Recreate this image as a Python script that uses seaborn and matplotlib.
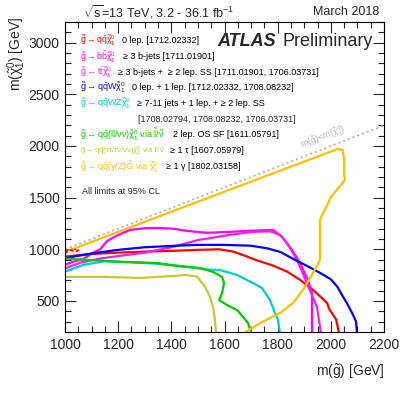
import numpy as np
import pandas as pd
import matplotlib
matplotlib.use("Agg")
import matplotlib.pyplot as plt
from matplotlib.ticker import MultipleLocator
import seaborn as sns

# ----------------------------
# contour points: m(gluino), m(neutralino) in GeV
# ----------------------------
qq_g = [1000, 1100, 1200, 1300, 1400, 1500, 1580, 1630, 1680, 1720, 1780, 1835, 1884, 1933, 1970, 1986, 1995, 2005, 2020, 2030]
qq_m = [930, 955, 968, 978, 985, 995, 1000, 980, 935, 895, 845, 785, 705, 607, 520, 480, 415, 380, 320, 200]

bb_g = [1000, 1030, 1068, 1100, 1132, 1158, 1200, 1245, 1300, 1346, 1406, 1460, 1535, 1620, 1700, 1783, 1816, 1854, 1884, 1914, 1929, 1929]
bb_m = [850, 880, 905, 960, 1000, 1080, 1140, 1188, 1205, 1207, 1200, 1178, 1160, 1169, 1180, 1188, 1120, 994, 868, 703, 577, 200]

tt_g = [1000, 1056, 1130, 1200, 1293, 1400, 1500, 1620, 1707, 1770, 1809, 1835, 1873, 1910, 1948, 1962]
tt_m = [815, 870, 910, 935, 965, 1020, 1090, 1140, 1169, 1175, 1140, 1062, 897, 674, 442, 200]

w_g = [1000, 1100, 1200, 1300, 1400, 1500, 1600, 1700, 1760, 1810, 1860, 1910, 1960, 2000, 2025, 2045, 2060, 2080, 2095, 2098]
w_m = [915, 960, 995, 1020, 1033, 1043, 1043, 1035, 1010, 975, 905, 840, 771, 710, 636, 545, 481, 384, 300, 200]

wz_g = [1000, 1070, 1150, 1250, 1350, 1450, 1530, 1583, 1647, 1707, 1741, 1771, 1790, 1801, 1808]
wz_m = [785, 850, 885, 875, 860, 835, 805, 800, 752, 674, 626, 510, 384, 316, 200]

sl_g = [1000, 1090, 1215, 1345, 1433, 1508, 1557, 1591, 1598, 1591, 1580, 1609, 1647, 1670, 1688, 1700]
sl_m = [910, 897, 878, 868, 835, 820, 781, 733, 674, 577, 510, 461, 413, 345, 287, 200]

tau_g = [1000, 1158, 1282, 1406, 1459, 1497, 1527, 1546, 1557, 1564, 1568]
tau_m = [733, 733, 723, 742, 752, 735, 636, 539, 442, 316, 200]

gam_g = [1000, 2027, 2045, 2050, 2050, 2053, 2001, 1959, 1959, 1933, 1895, 1858, 1809, 1734, 1680]
gam_m = [975, 1973, 1960, 1866, 1721, 1672, 1508, 1285, 897, 771, 607, 481, 384, 287, 200]

# short dashed piece of the 0-lepton contour near the diagonal
qqd_g = [1004, 1010, 1025, 1040, 1055]
qqd_m = [965, 1000, 990, 975, 1000]

diag_g = [1000, 2200]

analyses = ["qq", "bb", "tt", "w", "wz", "sl", "tau", "gam"]
colors = {"qq": "#ff0000", "bb": "#ff00ff", "tt": "#ee22ee", "w": "#0000ff",
          "wz": "#00cccc", "sl": "#00cc00", "tau": "#c8c832", "gam": "#ffc000"}
curves = {"qq": (qq_g, qq_m), "bb": (bb_g, bb_m), "tt": (tt_g, tt_m), "w": (w_g, w_m),
          "wz": (wz_g, wz_m), "sl": (sl_g, sl_m), "tau": (tau_g, tau_m), "gam": (gam_g, gam_m)}

frames = []
for name in analyses:
    g, m = curves[name]
    frames.append(pd.DataFrame({"g": g, "m": m, "analysis": name}))
df = pd.concat(frames, ignore_index=True)

legend_sym = [
    r"$\tilde{g}\rightarrow q\bar{q}\tilde{\chi}^{0}_{1}$",
    r"$\tilde{g}\rightarrow b\bar{b}\tilde{\chi}^{0}_{1}$",
    r"$\tilde{g}\rightarrow t\bar{t}\tilde{\chi}^{0}_{1}$",
    r"$\tilde{g}\rightarrow q\bar{q}W\tilde{\chi}^{0}_{1}$",
    r"$\tilde{g}\rightarrow q\bar{q}WZ\tilde{\chi}^{0}_{1}$",
    r"$\tilde{g}\rightarrow q\bar{q}(ll/\nu\nu)\tilde{\chi}^{0}_{1}$ via $\tilde{l}/\tilde{\nu}$",
    r"$\tilde{g}\rightarrow q\bar{q}(\tau\tau/\tau\nu/\nu\nu)\tilde{\chi}^{0}_{1}$ via $\tilde{\tau}/\tilde{\nu}$",
    r"$\tilde{g}\rightarrow q\bar{q}(\gamma/Z)\tilde{G}$ via $\tilde{\chi}^{0}_{1}$",
]
legend_desc = [
    "0 lep. [1712.02332]",
    "≥ 3 b-jets [1711.01901]",
    "≥ 3 b-jets +  ≥ 2 lep. SS [1711.01901, 1706.03731]",
    "0 lep. + 1 lep. [1712.02332, 1708.08232]",
    "≥ 7-11 jets + 1 lep. + ≥ 2 lep. SS",
    "2 lep. OS SF [1611.05791]",
    "≥ 1 τ [1607.05979]",
    "≥ 1 γ [1802.03158]",
]
legend_keys = ["qq", "bb", "tt", "w", "wz", "sl", "tau", "gam"]

# ----------------------------
# style
# ----------------------------
sns.set_style("ticks")
plt.rcParams['font.family'] = ['Liberation Sans', 'DejaVu Sans']
plt.rcParams['mathtext.fontset'] = 'custom'
plt.rcParams['mathtext.rm'] = 'Liberation Sans'
plt.rcParams['mathtext.it'] = 'Liberation Sans'
plt.rcParams['mathtext.bf'] = 'Liberation Sans:bold'

W, H = 406, 396
fig = plt.figure(figsize=(W / 100, H / 100), dpi=100)
ax = fig.add_axes([65 / W, 1 - 332 / H, 319 / W, 310 / H])

# diagonal kinematic limit
sns.lineplot(x=diag_g, y=diag_g, ax=ax, color="#b4b4b4", lw=1.3, ls=(0, (1.2, 1.6)))

sns.lineplot(data=df, x="g", y="m", hue="analysis", estimator=None,
             sort=False, palette=colors, lw=1.6, legend=False, ax=ax)
sns.lineplot(x=qqd_g, y=qqd_m, ax=ax, color="#ff0000", lw=1.3, ls=(0, (2, 1.5)), sort=False,
             estimator=None)

ax.set_xlim(1000, 2200)
ax.set_ylim(200, 3200)
ax.set_xlabel("")
ax.set_ylabel("")
ax.xaxis.set_major_locator(MultipleLocator(200))
ax.xaxis.set_minor_locator(MultipleLocator(50))
ax.yaxis.set_major_locator(MultipleLocator(500))
ax.yaxis.set_minor_locator(MultipleLocator(100))
ax.tick_params(which="major", direction="in", top=True, right=True, length=8, width=0.8,
               labelsize=10, pad=4)
ax.tick_params(which="minor", direction="in", top=True, right=True, length=4, width=0.8)
for s in ax.spines.values():
    s.set_linewidth(0.8)
    s.set_color("black")


def px(x, y):
    return ((x - 65) / 319, (332 - y) / 310)


ys = [41, 57, 72.5, 88, 104, 135, 151, 167]
xs_desc = [122, 123, 118, 132, 137, 173, 165, 166]
sym_end = [116, 116, 114, 127, 133, 166, 158, 159]
renderer = fig.canvas.get_renderer()
for sym, desc, key, y, xd, xe in zip(legend_sym, legend_desc, legend_keys, ys, xs_desc, sym_end):
    t = ax.text(*px(80, y), sym, color=colors[key], fontsize=6.5, ha="left", va="center",
                transform=ax.transAxes)
    w = t.get_window_extent(renderer).width
    if w > xe - 80:
        t.set_fontsize(6.5 * max(0.85, (xe - 80) / w))
    end = t.get_window_extent(renderer).x1
    xd = max(xd, end + 5)
    ax.text(*px(xd, y), desc, color="black", fontsize=6.5, ha="left", va="center",
            transform=ax.transAxes)
ax.text(*px(138, 120), "[1708.02794, 1708.08232, 1706.03731]", fontsize=6.5,
        ha="left", va="center", transform=ax.transAxes)
ax.text(*px(82, 192), "All limits at 95% CL", fontsize=6.5, ha="left", va="center",
        transform=ax.transAxes)

ax.text(*px(217, 42), "ATLAS", fontsize=13, fontweight="bold", fontstyle="italic",
        ha="left", va="center", transform=ax.transAxes)
ax.text(*px(283, 42), "Preliminary", fontsize=13, ha="left", va="center",
        transform=ax.transAxes)

ax.text(1971, 2075, r"m($\tilde{g}$)<m($\tilde{\chi}^{0}_{1}$)", color="#b4b4b4", fontsize=6.5,
        rotation=21, ha="center", va="center")

fig.text(83 / W, 1 - 12 / H, r"$\sqrt{s}$=13 TeV, 3.2 - 36.1 fb$^{-1}$", fontsize=9,
         ha="left", va="center")
fig.text(379 / W, 1 - 12 / H, "March 2018", fontsize=9, ha="right", va="center")
fig.text(385 / W, 1 - 372 / H, r"m($\tilde{g}$) [GeV]", fontsize=10, ha="right", va="center")
fig.text(17 / W, 1 - 17 / H, r"m($\tilde{\chi}^{0}_{1}$) [GeV]", fontsize=10, rotation=90,
         ha="center", va="top")

fig.savefig("out.png", dpi=100, facecolor="white")
